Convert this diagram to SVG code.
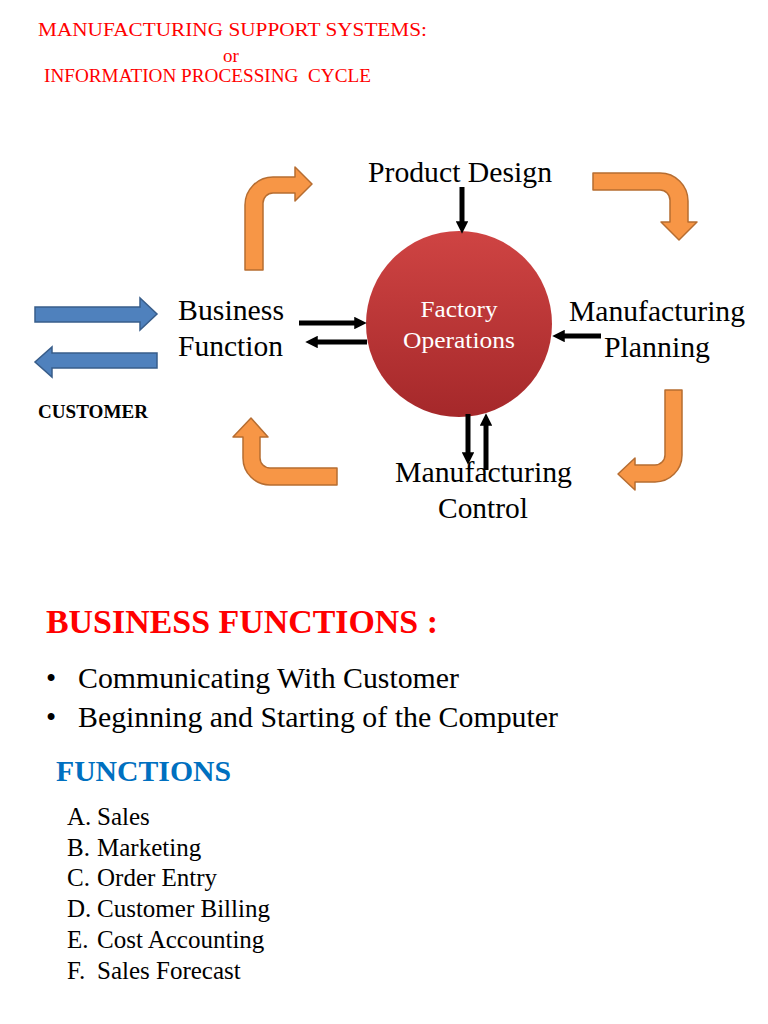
<svg xmlns="http://www.w3.org/2000/svg" width="768" height="1024" viewBox="0 0 768 1024" font-family="'Liberation Serif', 'DejaVu Serif', serif">
  <style>
    text { font-family: "Liberation Serif", "DejaVu Serif", serif; }
    .title { fill: #ff0000; font-size: 19px; }
    .lbl { fill: #000; font-size: 29px; font-family: "Liberation Serif", serif; }
    .inner { fill: #ffffff; font-size: 23px; text-anchor: middle; }
    .orange { fill: #f79646; stroke: #b66d31; stroke-width: 1.5; stroke-linejoin: round; }
    .blue { fill: #4f81bd; stroke: #385d8a; stroke-width: 1.5; }
    .conn { stroke: #000; stroke-width: 5; fill: none; marker-end: url(#head); }
    .heading { fill: #ff0000; font-size: 34px; font-weight: bold; }
    .bullet { fill: #000; font-size: 29px; font-family: "Liberation Serif", serif; }
    .fn { fill: #0070c0; font-size: 29px; font-weight: bold; }
    .item { fill: #000; font-size: 25px; font-family: "Liberation Serif", serif; }
  </style>
  <defs>
    <marker id="head" viewBox="0 0 10 10" refX="3" refY="5" markerWidth="2.5" markerHeight="2.5" orient="auto">
      <path d="M0,0 L10,5 L0,10 z" fill="#000"/>
    </marker>
    <linearGradient id="redGrad" x1="0" y1="0" x2="0" y2="1">
      <stop offset="0" stop-color="#cf4443"/>
      <stop offset="1" stop-color="#a5282a"/>
    </linearGradient>
  </defs>

  <g id="title">
    <text class="title" x="38" y="36" textLength="389" lengthAdjust="spacingAndGlyphs">MANUFACTURING SUPPORT SYSTEMS:</text>
    <text class="title" x="223" y="62">or</text>
    <text class="title" x="44" y="82" textLength="327" lengthAdjust="spacingAndGlyphs" xml:space="preserve">INFORMATION PROCESSING  CYCLE</text>
  </g>

  <g id="cycle-arrows">
    <path class="orange" d="M245,270 L245,205 A28,28 0 0 1 273,177 L295,177 L295,167 L312,184 L295,201 L295,193 L273,193 A10,10 0 0 0 263,203 L263,270 Z"/>
    <path class="orange" d="M593,173 L660,173 A28,28 0 0 1 688,201 L688,222 L697,222 L679,240 L661,222 L670,222 L670,200 A10,10 0 0 0 660,190 L593,190 Z"/>
    <path class="orange" d="M665,390 L682,390 L682,455 A27,27 0 0 1 655,482 L635,482 L635,490 L618,474 L635,458 L635,465 L655,465 A10,10 0 0 0 665,455 Z"/>
    <path class="orange" d="M243,437 L233,437 L251,418 L268,437 L260,437 L260,458 A10,10 0 0 0 270,468 L337,468 L337,485 L270,485 A27,27 0 0 1 243,458 Z"/>
  </g>

  <g id="customer">
    <path class="blue" d="M35,307 L140,307 L140,298 L157,314 L140,330 L140,322 L35,322 Z"/>
    <path class="blue" d="M157,353 L52,353 L52,347 L35,362 L52,377 L52,368 L157,368 Z"/>
    <text x="38" y="418" style="font-size:18px;font-weight:bold" textLength="110" lengthAdjust="spacingAndGlyphs">CUSTOMER</text>
  </g>

  <g id="factory-operations">
    <circle cx="459" cy="324" r="93" fill="url(#redGrad)"/>
    <text class="inner" x="459" y="317" textLength="77" lengthAdjust="spacingAndGlyphs">Factory</text>
    <text class="inner" x="459" y="348" textLength="112" lengthAdjust="spacingAndGlyphs">Operations</text>
  </g>

  <g id="product-design">
    <text class="lbl" x="368" y="182" textLength="184" lengthAdjust="spacingAndGlyphs">Product Design</text>
  </g>

  <g id="business-function">
    <text class="lbl" x="178" y="320" textLength="106" lengthAdjust="spacingAndGlyphs">Business</text>
    <text class="lbl" x="178" y="356" textLength="105" lengthAdjust="spacingAndGlyphs">Function</text>
  </g>

  <g id="manufacturing-planning">
    <text class="lbl" x="569" y="321" textLength="176" lengthAdjust="spacingAndGlyphs">Manufacturing</text>
    <text class="lbl" x="604" y="357" textLength="106" lengthAdjust="spacingAndGlyphs">Planning</text>
  </g>

  <g id="manufacturing-control">
    <text class="lbl" x="395" y="482" textLength="177" lengthAdjust="spacingAndGlyphs">Manufacturing</text>
    <text class="lbl" x="438" y="518" textLength="90" lengthAdjust="spacingAndGlyphs">Control</text>
  </g>

  <g id="connectors">
    <line class="conn" x1="462" y1="187" x2="462" y2="225"/>
    <line class="conn" x1="299" y1="323" x2="358" y2="323"/>
    <line class="conn" x1="367" y1="342" x2="314" y2="342"/>
    <line class="conn" x1="601" y1="336" x2="561" y2="336"/>
    <line class="conn" x1="468" y1="414" x2="468" y2="456"/>
    <line class="conn" x1="486" y1="470" x2="486" y2="422"/>
  </g>

  <g id="business-functions">
    <text class="heading" x="46" y="633" textLength="392" lengthAdjust="spacingAndGlyphs">BUSINESS FUNCTIONS :</text>
    <text class="bullet" x="46" y="688">•</text>
    <text class="bullet" x="78" y="688" textLength="381" lengthAdjust="spacingAndGlyphs">Communicating With Customer</text>
    <text class="bullet" x="46" y="727">•</text>
    <text class="bullet" x="78" y="727" textLength="480" lengthAdjust="spacingAndGlyphs">Beginning and Starting of the Computer</text>
  </g>

  <g id="functions">
    <text class="fn" x="56" y="781" textLength="175" lengthAdjust="spacingAndGlyphs">FUNCTIONS</text>
    <text class="item" x="67" y="825">A.</text><text class="item" x="97" y="825">Sales</text>
    <text class="item" x="67" y="856">B.</text><text class="item" x="97" y="856">Marketing</text>
    <text class="item" x="67" y="886">C.</text><text class="item" x="97" y="886">Order Entry</text>
    <text class="item" x="67" y="917">D.</text><text class="item" x="97" y="917">Customer Billing</text>
    <text class="item" x="67" y="948">E.</text><text class="item" x="97" y="948">Cost Accounting</text>
    <text class="item" x="67" y="979">F.</text><text class="item" x="97" y="979">Sales Forecast</text>
  </g>
</svg>
